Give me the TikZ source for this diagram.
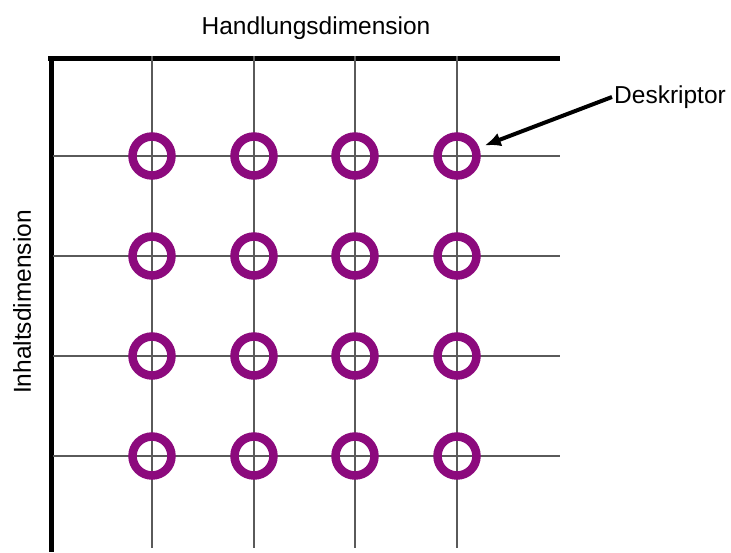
\documentclass[tikz,border=0pt]{standalone}
\usepackage{fontspec}
\setmainfont{Liberation Sans}
\usetikzlibrary{arrows.meta}
\definecolor{ringpurple}{RGB}{140,10,125}
\definecolor{gridgray}{RGB}{90,90,90}
\begin{document}
\begin{tikzpicture}[x=1pt,y=-1pt,
  gridline/.style={draw=gridgray,line width=2pt},
  axisline/.style={draw=black,line width=5pt},
  ring/.style={circle,draw=ringpurple,line width=8.5pt,minimum size=39pt,inner sep=0pt},
  lbl/.style={font=\fontsize{24.5}{28}\selectfont,inner sep=2pt},
  pointer/.style={draw=black,line width=4pt,-{Latex[length=16pt,width=14pt]}}]
\useasboundingbox (0,0) rectangle (731,552);
% axes
\draw[axisline] (48,58) -- (560,58);
\draw[axisline] (51,56) -- (51,552);
% grid lines
\foreach \x in {152,254,355,457} \draw[gridline] (\x,56) -- (\x,548);
\foreach \y in {156,256,356,456} \draw[gridline] (53,\y) -- (560,\y);
% rings
\foreach \x [count=\i] in {152,254,355,457}
  \foreach \y [count=\j] in {156,256,356,456}
    \node[ring] (c\j\i) at (\x,\y) {};
% labels
\node[lbl] (hd) at (316,28) {Handlungsdimension};
\node[lbl,rotate=90] (id) at (22,302) {Inhaltsdimension};
\node[lbl,anchor=west] (desk) at (612,97) {Deskriptor};
\draw[pointer,shorten >=6pt] (desk.west) -- (c14);
\end{tikzpicture}
\end{document}
